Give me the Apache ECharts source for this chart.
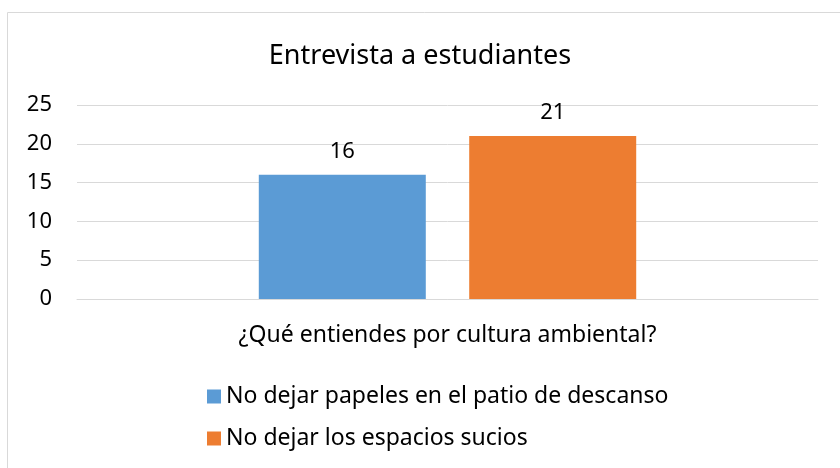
<!DOCTYPE html>
<html>
<head>
<meta charset="utf-8">
<script src="https://cdn.jsdelivr.net/npm/echarts@6/dist/echarts.min.js"></script>
<style>
  body { margin: 0; background: #fff; }
  #chart { width: 840px; height: 468px; }
</style>
</head>
<body>
<div id="chart"></div>
<script>
const title = 'Entrevista a estudiantes'
const categories = ['¿Qué entiendes por cultura ambiental?']
const seriesNames = ['No dejar papeles en el patio de descanso', 'No dejar los espacios sucios']
const papeles = [16]
const espacios = [21]

const font = 'Noto Sans'
const chart = echarts.init(document.getElementById('chart'))

const options = {
  animation: false,
  color: ['#5B9BD5', '#ED7D31'],
  title: {
    text: title,
    left: 'center',
    top: 38,
    textStyle: { fontFamily: font, fontSize: 27, fontWeight: 'normal', color: '#000' }
  },
  graphic: [{
    type: 'rect',
    shape: { x: 7.5, y: 12.5, width: 840, height: 470 },
    style: { fill: 'none', stroke: '#d9d9d9', lineWidth: 1 }
  }],
  legend: {
    orient: 'vertical',
    left: 202,
    top: 380,
    itemWidth: 14,
    itemHeight: 14,
    itemGap: 19,
    icon: 'rect',
    textStyle: { fontFamily: font, fontSize: 23, color: '#000' },
    data: seriesNames
  },
  grid: { left: 77, right: 22, top: 105, bottom: 169 },
  xAxis: {
    type: 'category',
    data: categories,
    axisLine: { lineStyle: { color: '#d9d9d9', width: 1 } },
    axisTick: { show: false },
    axisLabel: { margin: 25, fontFamily: font, fontSize: 23, color: '#000' }
  },
  yAxis: {
    type: 'value',
    min: 0,
    max: 25,
    interval: 5,
    axisLine: { show: false },
    axisTick: { show: false },
    splitLine: { lineStyle: { color: '#d9d9d9', width: 1 } },
    axisLabel: { margin: 25, fontFamily: font, fontSize: 22, color: '#000' }
  },
  series: [
    {
      name: seriesNames[0],
      type: 'bar',
      data: papeles,
      barWidth: 167,
      barGap: '26%',
      label: { show: true, position: 'top', distance: 12, fontFamily: font, fontSize: 22, color: '#000' }
    },
    {
      name: seriesNames[1],
      type: 'bar',
      data: espacios,
      barWidth: 167,
      barGap: '26%',
      label: { show: true, position: 'top', distance: 12, fontFamily: font, fontSize: 22, color: '#000' }
    }
  ]
}

chart.setOption(options)
</script>
</body>
</html>
